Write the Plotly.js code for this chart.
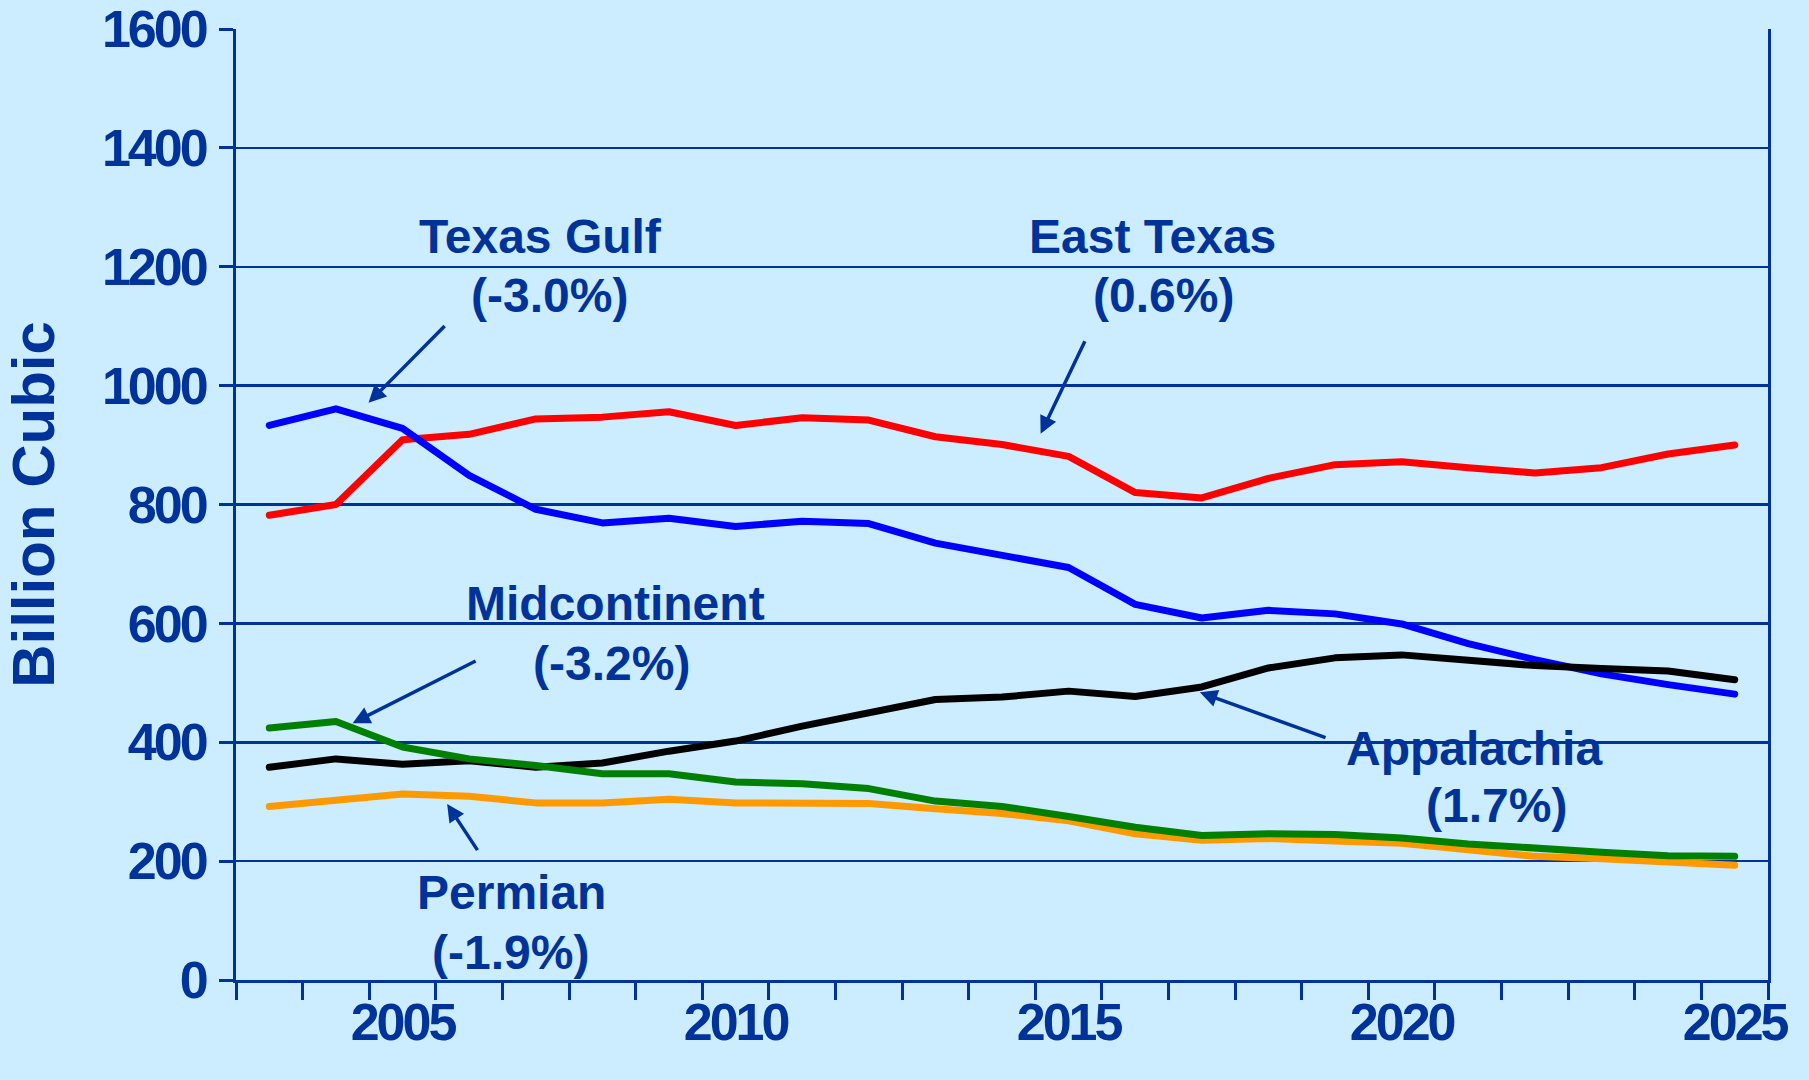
<!DOCTYPE html>
<html>
<head>
<meta charset="utf-8">
<script src="https://cdn.plot.ly/plotly-3.0.1.min.js"></script>
<style>
  html, body { margin: 0; padding: 0; background: #CCECFF; }
  #chart { width: 1809px; height: 1080px; }
  .xtick text, .ytick text { letter-spacing: -3px; }
  .scatterlayer path.js-line { stroke-linecap: round; stroke-linejoin: round; }
</style>
</head>
<body>
<div id="chart"></div>
<script>
// Years (categories)
const years = [2003, 2004, 2005, 2006, 2007, 2008, 2009, 2010, 2011, 2012, 2013, 2014,
               2015, 2016, 2017, 2018, 2019, 2020, 2021, 2022, 2023, 2024, 2025];

// Series values (billion cubic feet)
const eastTexas    = [782, 800, 909, 918, 944, 947, 956, 933, 946, 942, 914, 901,
                      881, 820, 811, 844, 867, 872, 862, 853, 862, 885, 900];
const texasGulf    = [933, 961, 928, 849, 792, 769, 777, 763, 772, 768, 735, 716,
                      694, 632, 609, 622, 616, 599, 566, 539, 515, 497, 481];
const appalachia   = [358, 372, 363, 369, 358, 365, 385, 402, 427, 448, 472, 476,
                      486, 477, 493, 525, 542, 547, 538, 529, 524, 520, 505];
const permian      = [292, 303, 313, 309, 298, 298, 304, 298, 297, 297, 288, 280,
                      268, 246, 235, 238, 234, 230, 219, 208, 204, 198, 193];
const midcontinent = [424, 435, 392, 372, 361, 347, 347, 333, 330, 322, 301, 292,
                      275, 257, 243, 246, 245, 239, 229, 221, 215, 209, 208];

const seriesNames  = ["East Texas", "Texas Gulf", "Appalachia", "Permian", "Midcontinent"];
const seriesColors = ["#FF0000", "#0000FF", "#000000", "#FF9900", "#008000"];

// Axis tick labels
const xTickVals = [2005, 2010, 2015, 2020, 2025];
const xTickText = ["2005", "2010", "2015", "2020", "2025"];
const yTickVals = [0, 200, 400, 600, 800, 1000, 1200, 1400, 1600];
const yTickText = ["0", "200", "400", "600", "800", "1000", "1200", "1400", "1600"];

// Label texts (name, growth)
const labelNames   = ["Texas Gulf", "East Texas", "Midcontinent", "Appalachia", "Permian"];
const labelGrowth  = ["(-3.0%)", "(0.6%)", "(-3.2%)", "(1.7%)", "(-1.9%)"];

const navy = "#003399";
const fontFam = "Liberation Sans, Arial, Helvetica, sans-serif";

const allValues = [eastTexas, texasGulf, appalachia, permian, midcontinent];
const traces = allValues.map((vals, i) => ({
  x: years,
  y: vals,
  type: "scatter",
  mode: "lines",
  name: seriesNames[i],
  line: { color: seriesColors[i], width: 7 },
  hoverinfo: "x+y+name"
}));

// label placement (data coordinates)
const namePos   = [[2007.07, 1251], [2016.26, 1251], [2008.2, 634], [2021.09, 390], [2006.64, 147]];
const growthPos = [[2007.21, 1152], [2016.43, 1152], [2008.13, 533], [2021.43, 294], [2006.62, 46]];
// arrows: [tailX, tailY, headX, headY]
const arrows = [
  [2005.655, 1103, 2004.49, 971],
  [2015.255, 1077, 2014.58, 919],
  [2006.12, 538, 2004.25, 432],
  [2018.88, 407, 2016.97, 484],
  [2006.14, 216, 2005.67, 296]
];

const annFont = { family: fontFam, size: 48, color: navy, weight: 700 };
const annotations = [];
labelNames.forEach((t, i) => {
  annotations.push({ x: namePos[i][0], y: namePos[i][1], xref: "x", yref: "y",
    text: "<b>" + t + "</b>", showarrow: false, font: annFont, xanchor: "center", yanchor: "middle" });
  annotations.push({ x: growthPos[i][0], y: growthPos[i][1], xref: "x", yref: "y",
    text: "<b>" + labelGrowth[i] + "</b>", showarrow: false, font: annFont, xanchor: "center", yanchor: "middle" });
  const a = arrows[i];
  annotations.push({ x: a[2], y: a[3], ax: a[0], ay: a[1], xref: "x", yref: "y", axref: "x", ayref: "y",
    text: "", showarrow: true, arrowhead: 2, arrowsize: 1, arrowwidth: 3.5, arrowcolor: navy, standoff: 0 });
});

const layout = {
  width: 1809,
  height: 1080,
  paper_bgcolor: "#CCECFF",
  plot_bgcolor: "#CCECFF",
  showlegend: false,
  margin: { l: 236, r: 41, t: 29, b: 100, pad: 0 },
  font: { family: fontFam, color: navy },
  xaxis: {
    range: [2002.5, 2025.5],
    tickmode: "array",
    tickvals: xTickVals,
    ticktext: xTickText,
    ticks: "outside",
    ticklen: 17,
    tickcolor: "rgba(0,0,0,0)",
    tickfont: { family: fontFam, size: 52, color: navy, weight: 700 },
    ticklabelstandoff: -22,
    minor: { tick0: 2002.5, dtick: 1, ticks: "outside", ticklen: 17, tickwidth: 3, tickcolor: navy, showgrid: false },
    showgrid: false,
    zeroline: false,
    showline: true,
    linecolor: navy,
    linewidth: 3,
    mirror: false,
    fixedrange: true
  },
  yaxis: {
    range: [0, 1600],
    tickmode: "array",
    tickvals: yTickVals,
    ticktext: yTickText,
    ticks: "outside",
    ticklen: 14,
    tickwidth: 3,
    tickcolor: navy,
    tickfont: { family: fontFam, size: 52, color: navy, weight: 700 },
    ticklabelstandoff: 3,
    showgrid: true,
    gridcolor: navy,
    gridwidth: 2.5,
    zeroline: false,
    showline: true,
    linecolor: navy,
    linewidth: 3,
    mirror: true,
    title: { text: "<b>Billion Cubic</b>", font: { family: fontFam, size: 60, color: navy, weight: 700 }, standoff: 36 },
    automargin: false,
    fixedrange: true
  },
  annotations: annotations
};

Plotly.newPlot("chart", traces, layout, { displayModeBar: false, staticPlot: true });
</script>
</body>
</html>
